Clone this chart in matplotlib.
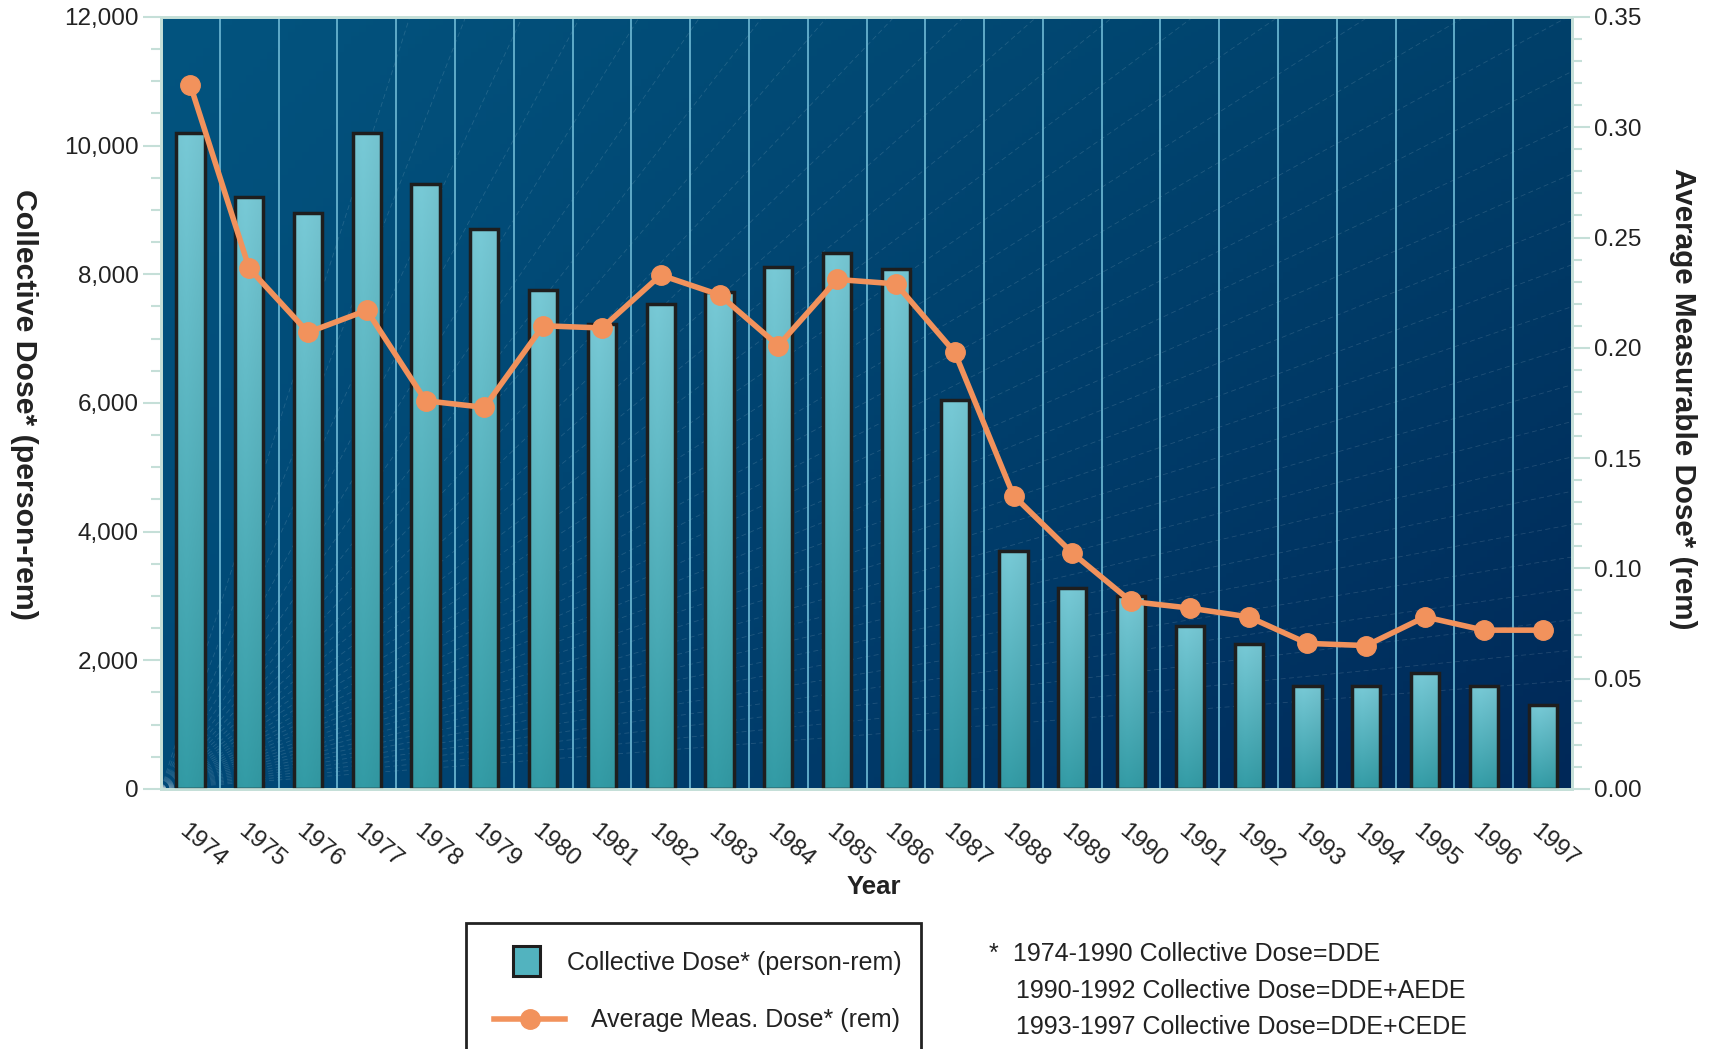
import numpy as np
import matplotlib.pyplot as plt
from matplotlib.patches import Rectangle
from matplotlib.lines import Line2D
from matplotlib.ticker import MultipleLocator, FuncFormatter
import matplotlib.transforms as mtransforms

plt.rcParams['font.family'] = ['Liberation Sans', 'DejaVu Sans']

# data
years = [1974, 1975, 1976, 1977, 1978, 1979, 1980, 1981, 1982, 1983, 1984, 1985,
         1986, 1987, 1988, 1989, 1990, 1991, 1992, 1993, 1994, 1995, 1996, 1997]
collective_dose = [10200, 9200, 8950, 10200, 9400, 8700, 7750, 7220, 7540, 7720, 8110, 8330,
                   8080, 6050, 3700, 3120, 3000, 2540, 2250, 1600, 1600, 1800, 1600, 1300]
avg_dose = [0.319, 0.236, 0.207, 0.217, 0.176, 0.173, 0.210, 0.209, 0.233, 0.224, 0.201, 0.231,
            0.229, 0.198, 0.133, 0.107, 0.085, 0.082, 0.078, 0.066, 0.065, 0.078, 0.072, 0.072]

orange = '#f2925c'
axis_col = '#c5dfd8'
text_col = '#222222'

fig = plt.figure(figsize=(17.13, 10.49), dpi=100)
ax = fig.add_axes([0.094, 0.2479, 0.8237, 0.7359])

# dark blue gradient background
ny, nx = 200, 200
u = np.linspace(0, 1, nx)[None, :, None]
w = np.linspace(0, 1, ny)[:, None, None]
TL = np.array([3, 84, 127]) / 255
TR = np.array([0, 64, 106]) / 255
BL = np.array([0, 74, 120]) / 255
BR = np.array([0, 40, 88]) / 255
bg = TL * (1 - u) * (1 - w) + TR * u * (1 - w) + BL * (1 - u) * w + BR * u * w
ax.imshow(bg, extent=[0, 1, 0, 1], transform=ax.transAxes, aspect='auto', zorder=0)

# faint texture lines
for ang in np.linspace(8, 80, 34):
    a = np.radians(ang)
    ax.plot([0, 3 * np.cos(a)], [0, 3 * np.sin(a)], transform=ax.transAxes,
            color='white', alpha=0.13, lw=0.6, ls=(0, (6, 4)), zorder=0.5)

x = np.arange(len(years))
for k in range(1, len(years)):
    ax.axvline(k - 0.5, color='#66b2cf', lw=1.3, zorder=1)

bars = ax.bar(x, collective_dose, width=0.48, facecolor='none', edgecolor='#1e1e1e',
              linewidth=2.5, zorder=3)
top_c = np.array([0.47, 0.79, 0.84])
bot_c = np.array([0.20, 0.61, 0.65])
t = np.linspace(0, 1, 100)[:, None, None]
s = np.linspace(0, 1, 20)[None, :, None]
grad = top_c * (1 - t) + bot_c * t
grad = grad * (1.0 - 0.06 * np.abs(s - 0.35))
grad = np.clip(grad, 0, 1)
for b in bars:
    x0, y0 = b.get_xy()
    im = ax.imshow(grad, extent=[x0, x0 + b.get_width(), y0, y0 + b.get_height()],
                   aspect='auto', zorder=2.5)
    im.set_clip_path(b)

ax.set_xlim(-0.5, len(years) - 0.5)
ax.set_ylim(0, 12000)

ax2 = ax.twinx()
ax2.plot(x, avg_dose, color=orange, lw=4, marker='o', ms=14, zorder=5)
ax2.set_ylim(0, 0.35)

ax.yaxis.set_major_locator(MultipleLocator(2000))
ax.yaxis.set_minor_locator(MultipleLocator(500))
ax.yaxis.set_major_formatter(FuncFormatter(lambda v, p: f'{v:,.0f}'))
ax2.yaxis.set_major_locator(MultipleLocator(0.05))
ax2.yaxis.set_minor_locator(MultipleLocator(0.01))
ax2.yaxis.set_major_formatter(FuncFormatter(lambda v, p: f'{v:.2f}'))

for a in (ax, ax2):
    a.tick_params(axis='y', which='major', length=13, width=1.5, color=axis_col,
                  labelsize=17.5, labelcolor=text_col, pad=3)
    a.tick_params(axis='y', which='minor', length=7, width=1.5, color=axis_col)
    for sp in a.spines.values():
        sp.set_color(axis_col)
        sp.set_linewidth(2)

ax.set_xticks(x)
ax.set_xticklabels(years, rotation=-40, ha='center')
ax.tick_params(axis='x', length=0, labelsize=17.5, labelcolor=text_col, pad=22)
offset = mtransforms.ScaledTranslation(0.12, 0, fig.dpi_scale_trans)
for lbl in ax.get_xticklabels():
    lbl.set_transform(lbl.get_transform() + offset)

fig.text(874 / 1713, 1 - 887 / 1049, 'Year', ha='center', va='center',
         fontsize=18.5, weight='bold', color=text_col)
fig.text(24 / 1713, 1 - 404 / 1049, 'Collective Dose* (person-rem)', rotation=-90,
         ha='center', va='center', fontsize=21.8, weight='bold', color=text_col)
fig.text(1683 / 1713, 1 - 399 / 1049, 'Average Measurable Dose* (rem)', rotation=-90,
         ha='center', va='center', fontsize=21.3, weight='bold', color=text_col)

# legend box
fig.add_artist(Rectangle((466 / 1713, -0.02), (921 - 466) / 1713, 0.02 + (1049 - 923) / 1049,
                         transform=fig.transFigure, fill=False, edgecolor=text_col, lw=2))
fig.add_artist(Rectangle((513 / 1713, 1 - 976 / 1049), 27 / 1713, 30 / 1049,
                         transform=fig.transFigure, facecolor='#52b3bf', edgecolor='#1e1e1e', lw=2.2))
ly = 1 - 1019 / 1049
fig.add_artist(Line2D([494 / 1713, 565 / 1713], [ly, ly], transform=fig.transFigure,
                      color=orange, lw=4))
fig.add_artist(Line2D([529.5 / 1713], [ly], transform=fig.transFigure, color=orange,
                      marker='o', ms=14, lw=0))
fig.text(902 / 1713, 1 - 963 / 1049, 'Collective Dose* (person-rem)', ha='right', va='center',
         fontsize=18, color=text_col)
fig.text(900 / 1713, 1 - 1020 / 1049, 'Average Meas. Dose* (rem)', ha='right', va='center',
         fontsize=18, color=text_col)

# footnote
fig.text(989 / 1713, 1 - 954 / 1049, '*', ha='left', va='center', fontsize=18, color=text_col)
fig.text(1013 / 1713, 1 - 954 / 1049, '1974-1990 Collective Dose=DDE', ha='left', va='center',
         fontsize=18, color=text_col)
fig.text(1016 / 1713, 1 - 991 / 1049, '1990-1992 Collective Dose=DDE+AEDE', ha='left', va='center',
         fontsize=18, color=text_col)
fig.text(1016 / 1713, 1 - 1027 / 1049, '1993-1997 Collective Dose=DDE+CEDE', ha='left', va='center',
         fontsize=18, color=text_col)

fig.savefig('out.png', dpi=100)
